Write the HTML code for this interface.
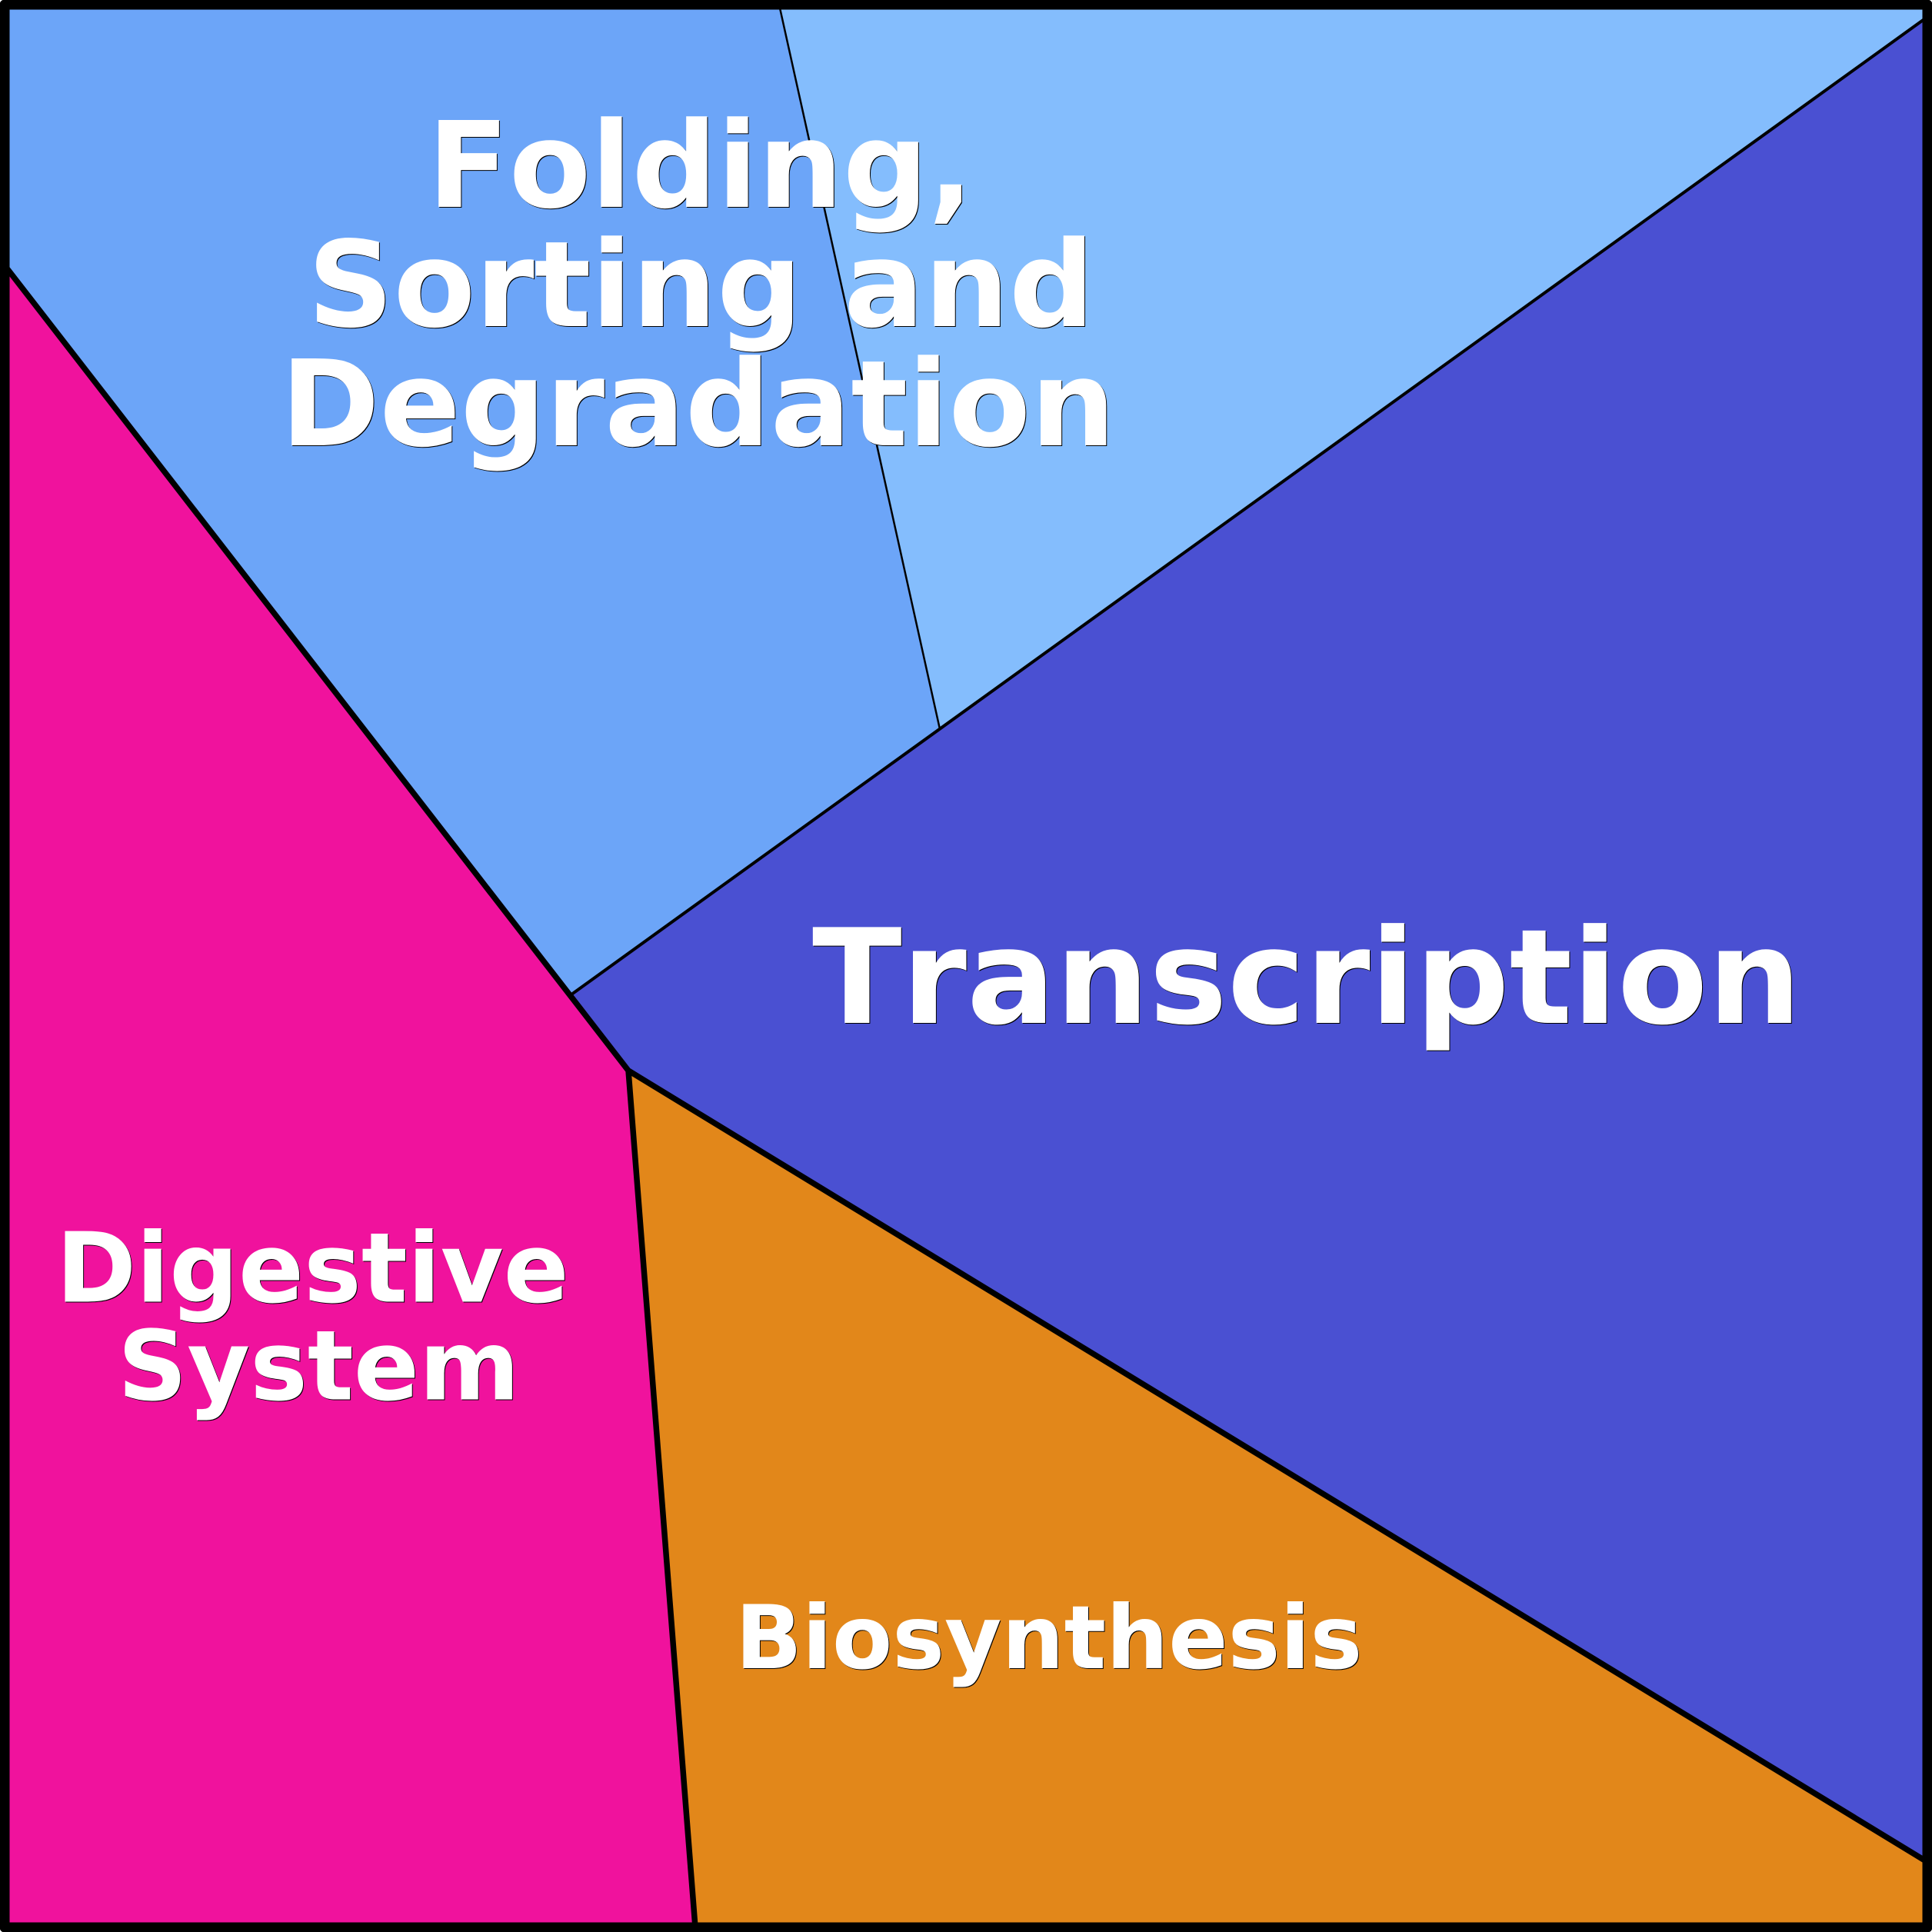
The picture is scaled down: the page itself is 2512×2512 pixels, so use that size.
<!DOCTYPE html>
<html><head><meta charset="utf-8"><style>html,body{margin:0;padding:0;background:#fff}svg{display:block}
text{font-family:"DejaVu Sans",sans-serif;font-weight:bold;font-kerning:none}</style></head><body>
<svg xmlns="http://www.w3.org/2000/svg" width="2512" height="2512" viewBox="0 0 2512 2512">
<polygon points="6,6 1013,6 1222,948 2506,22 2506,6" fill="#84bdfd"/>
<polygon points="6,6 1013,6 1222,948 743,1293 6,345" fill="#6ca5f8"/>
<polygon points="2506,22 1222,948 743,1293 817,1392 2506,2422" fill="#4a50d2"/>
<polygon points="817,1392 2506,2422 2506,2506 904,2506" fill="#e2871a"/>
<polygon points="6,345 817,1392 904,2506 6,2506" fill="#f0129d"/>
<g fill="none" stroke="#000" stroke-linecap="butt">
<path d="M1013,6L1222,948" stroke-width="2.5"/>
<path d="M743,1293L2506,22" stroke-width="4"/>
<path d="M6,345L817,1392L2506,2421M817,1392L904,2506" stroke-width="7.5"/>
</g>
<rect x="6" y="6" width="2500" height="2500" fill="none" stroke="#000" stroke-width="13" stroke-linejoin="round"/>
<g font-size="155" fill="#000" transform="translate(1,1)">
<text x="556" y="269">Folding,</text><text x="400" y="424">Sorting and</text><text x="365" y="579">Degradation</text>
<text x="1056" y="1330" font-size="171">Transcription</text>
<text x="73" y="1692.5" font-size="125.5">Digestive</text><text x="153" y="1819.5" font-size="125.5">System</text>
<text x="956" y="2169" font-size="114">Biosynthesis</text>
</g>
<g font-size="155" fill="#fff">
<text x="556" y="269">Folding,</text><text x="400" y="424">Sorting and</text><text x="365" y="579">Degradation</text>
<text x="1056" y="1330" font-size="171">Transcription</text>
<text x="73" y="1692.5" font-size="125.5">Digestive</text><text x="153" y="1819.5" font-size="125.5">System</text>
<text x="956" y="2169" font-size="114">Biosynthesis</text>
</g>
</svg></body></html>
